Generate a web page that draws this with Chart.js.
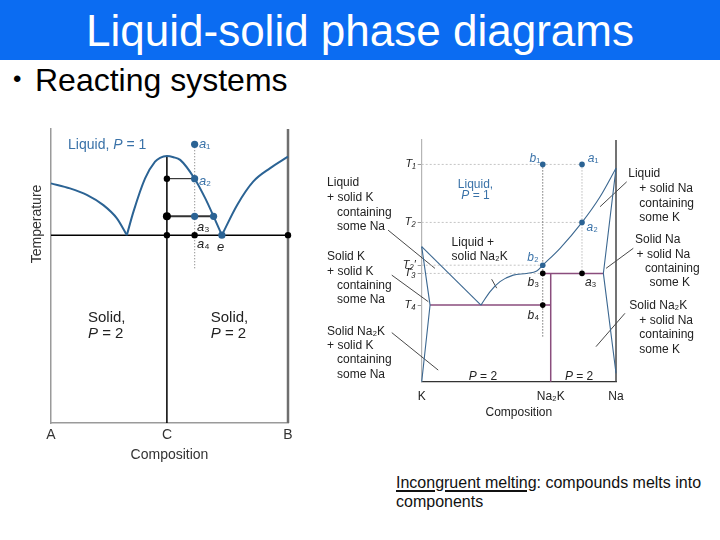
<!DOCTYPE html>
<html>
<head>
<meta charset="utf-8">
<script src="https://cdn.jsdelivr.net/npm/chart.js@4.4.1/dist/chart.umd.min.js"></script>
<style>
html,body{margin:0;padding:0;background:#fff;width:720px;height:540px;overflow:hidden;font-family:"Liberation Sans","DejaVu Sans",Arial,sans-serif;}
#bar{position:absolute;left:0;top:0;width:720px;height:60px;background:#0b6cf2;}
#title{position:absolute;left:0;top:9px;width:720px;text-align:center;color:#fff;font-size:44px;line-height:44px;white-space:nowrap;}
#bullet{position:absolute;left:13px;top:67px;font-size:24px;line-height:24px;color:#000;}
#sub{position:absolute;left:35px;top:64px;font-size:32px;line-height:32px;color:#000;white-space:nowrap;}
#note{position:absolute;left:396px;top:473px;font-size:16px;line-height:19px;color:#111;white-space:nowrap;}
#note u{text-decoration-thickness:2px;text-underline-offset:2px;}
#leftBox{position:absolute;left:0;top:100px;width:310px;height:380px;}
#rightBox{position:absolute;left:318px;top:130px;width:402px;height:300px;}
</style>
</head>
<body>
<div id="bar"></div>
<div id="title">Liquid-solid phase diagrams</div>
<div id="bullet">•</div>
<div id="sub">Reacting systems</div>
<div id="note"><u>Incongruent melting</u>: compounds melts into<br>components</div>
<div id="leftBox"><canvas id="left" width="310" height="380"></canvas></div>
<div id="rightBox"><canvas id="right" width="402" height="300"></canvas></div>
<script>
// ---------- Left diagram (compound C, congruent melting) ----------
const leftTickValues = [0, 49, 100];
const leftTickLabels = ['A', 'C', 'B'];
const liquidusA = [[0,81.5],[8,79.8],[15.1,77.6],[22.1,74.1],[27.8,69.6],[32,63.9]];
const liquidusC = [[32,63.9],[34.8,71.9],[39.7,83.2],[43.9,88.9],[46,90.2],[48.9,90.8],[51.7,90.4],[54.5,89.5],[60.6,83.1],[65.1,76.4],[68.6,70.3],[72.1,63.9]];
const liquidusB = [[72.1,63.9],[78.5,74.1],[85.3,82.1],[92.5,86.7],[100,90.6]];
const compoundC = [[48.9,90.8],[48.9,0]];
const eutecticLeft = [[0,63.9],[100,63.9]];
const pureB = [[100,0],[100,100]];
const tieA2 = [[48.9,83.1],[60.6,83.1]];
const tieA3 = [[48.9,70.3],[68.6,70.3]];
const isoplethA = [[60.6,94.8],[60.6,52]];
const blueDotsLeft = [[60.6,94.8],[60.6,83.1],[60.6,70.3],[68.6,70.3],[72.1,63.9]];
const blackDotsLeft = [[48.9,83.1],[48.9,63.9],[60.6,63.9],[100,63.9]];
const bigDotLeft = [[48.9,70.3]];

// ---------- Right diagram (Na / K, Na2K incongruent melting) ----------
const rightTickValues = [0, 66.4, 100];
const rightTickLabels = ['K', 'Na₂K', 'Na'];
const tempTickValues = [89.9, 65.9, 48.2, 44.8, 31.7];
const tempTickLabels = ['T₁', 'T₂', 'T₂′', 'T₃', 'T₄'];
const liquidusK = [[0,55.9],[30.5,31.7]];
const liquidusNa2K = [[30.5,31.7],[35.1,37.2],[40.3,41.4],[47.1,44.1],[54,44.8],[59.2,45.8],[62.3,48.2]];
const liquidusNa = [[62.3,48.2],[71.2,55.2],[82.5,65.9],[91.8,76.5],[100,88.3]];
const solidSolK = [[0,55.9],[4.3,31.7],[0,0]];
const solidSolNa = [[100,88.3],[93.5,44.8],[100,3.5]];
const peritecticLine = [[62.3,44.8],[93.5,44.8]];
const eutecticRight = [[4.3,31.7],[66.4,31.7]];
const na2kLine = [[66.4,44.8],[66.4,0]];
const pureNa = [[100,0],[100,100]];
const isoplethB = [[62.3,89.9],[62.3,18.6]];
const isoplethAr = [[82.5,89.9],[82.5,44.8]];
const guideT1 = [[0,89.9],[82.5,89.9]];
const guideT2 = [[0,65.9],[82.5,65.9]];
const guideT2p = [[0,48.2],[62.3,48.2]];
const guideT3 = [[0,44.8],[62.3,44.8]];
const leaders = [
  [[-17.3,62.7],[6.8,46.9]],
  [[-15.4,44.1],[3.4,33.1]],
  [[-15.4,20.3],[8.5,4.8]],
  [[105.5,82.7],[91.8,72.4]],
  [[108.9,55.2],[94.9,46.9]],
  [[104.6,28.3],[89.7,14.5]],
  [[36,42.4],[38.6,38.7]]
];
const blueDotsRight = [[62.3,89.9],[82.5,89.9],[82.5,65.9],[62.3,48.2]];
const blackDotsRight = [[62.3,44.8],[82.5,44.8],[62.3,31.7]];

// ---------- annotations (text anchored in data coordinates) ----------
const BLUE = '#2b6394';
const LBLUE = '#3a72a8';
const INK = '#222';
const leftNotes = [
  {t:'Temperature', x:-5.9, y:67.7, c:'#333', s:14, a:'center', r:-Math.PI / 2},
  {t:'Liquid, *P* = 1', x:7.2, y:94.6, c:LBLUE, s:14, a:'left'},
  {t:'*a*₁', x:62.4, y:94.8, c:LBLUE, s:13, a:'left'},
  {t:'*a*₂', x:62.4, y:82.3, c:LBLUE, s:13, a:'left'},
  {t:'*a*₃', x:61.6, y:66.5, c:INK, s:13, a:'left'},
  {t:'*a*₄', x:61.6, y:60.6, c:INK, s:13, a:'left'},
  {t:'*e*', x:71.6, y:59.9, c:INK, s:13, a:'center'},
  {t:'Solid,', x:15.6, y:35.7, c:INK, s:15, a:'left'},
  {t:'*P* = 2', x:15.6, y:30.2, c:INK, s:15, a:'left'},
  {t:'Solid,', x:67.4, y:35.7, c:INK, s:15, a:'left'},
  {t:'*P* = 2', x:67.4, y:30.2, c:INK, s:15, a:'left'}
];
const rightNotes = [
  {t:'Liquid,', x:27.7, y:81.6, c:LBLUE, s:12, a:'center'},
  {t:'*P* = 1', x:27.7, y:76.8, c:LBLUE, s:12, a:'center'},
  {t:'Liquid +', x:15.4, y:57.5, c:INK, s:12, a:'left'},
  {t:'solid Na₂K', x:15.4, y:51.7, c:INK, s:12, a:'left'},
  {t:'*P* = 2', x:31.5, y:1.9, c:INK, s:12, a:'center'},
  {t:'*P* = 2', x:81.0, y:1.9, c:INK, s:12, a:'center'},
  {t:'*b*₁', x:61.0, y:92.4, c:LBLUE, s:12, a:'right'},
  {t:'*a*₁', x:85.5, y:92.4, c:LBLUE, s:12, a:'left'},
  {t:'*a*₂', x:84.8, y:63.6, c:LBLUE, s:12, a:'left'},
  {t:'*b*₂', x:60.2, y:51.4, c:LBLUE, s:12, a:'right'},
  {t:'*b*₃', x:60.4, y:40.8, c:INK, s:12, a:'right'},
  {t:'*a*₃', x:84.0, y:40.8, c:INK, s:12, a:'left'},
  {t:'*b*₄', x:60.4, y:27.4, c:INK, s:12, a:'right'},
  {t:'Liquid', x:-48.7, y:82.2, c:INK, s:12, a:'left'},
  {t:'+ solid K', x:-48.7, y:76.0, c:INK, s:12, a:'left'},
  {t:'containing', x:-43.6, y:69.8, c:INK, s:12, a:'left'},
  {t:'some Na', x:-43.6, y:64.0, c:INK, s:12, a:'left'},
  {t:'Solid K', x:-48.7, y:51.6, c:INK, s:12, a:'left'},
  {t:'+ solid K', x:-48.7, y:45.4, c:INK, s:12, a:'left'},
  {t:'containing', x:-43.6, y:39.6, c:INK, s:12, a:'left'},
  {t:'some Na', x:-43.6, y:33.8, c:INK, s:12, a:'left'},
  {t:'Solid Na₂K', x:-48.7, y:20.7, c:INK, s:12, a:'left'},
  {t:'+ solid K', x:-48.7, y:14.9, c:INK, s:12, a:'left'},
  {t:'containing', x:-43.6, y:9.0, c:INK, s:12, a:'left'},
  {t:'some Na', x:-43.6, y:3.1, c:INK, s:12, a:'left'},
  {t:'Liquid', x:106.3, y:86.2, c:INK, s:12, a:'left'},
  {t:'+ solid Na', x:112.0, y:80.0, c:INK, s:12, a:'left'},
  {t:'containing', x:112.0, y:73.8, c:INK, s:12, a:'left'},
  {t:'some K', x:112.0, y:68.0, c:INK, s:12, a:'left'},
  {t:'Solid Na', x:109.8, y:58.6, c:INK, s:12, a:'left'},
  {t:'+ solid Na', x:110.6, y:52.7, c:INK, s:12, a:'left'},
  {t:'containing', x:114.9, y:46.9, c:INK, s:12, a:'left'},
  {t:'some K', x:117.2, y:41.0, c:INK, s:12, a:'left'},
  {t:'Solid Na₂K', x:106.8, y:31.4, c:INK, s:12, a:'left'},
  {t:'+ solid Na', x:112.0, y:25.1, c:INK, s:12, a:'left'},
  {t:'containing', x:112.0, y:19.3, c:INK, s:12, a:'left'},
  {t:'some K', x:112.0, y:13.4, c:INK, s:12, a:'left'}
];

const FAM = '"Liberation Sans","DejaVu Sans",Arial,sans-serif';
const pts = a => a.map(([x, y]) => ({x, y}));
function seg(a, color, width, extra) {
  return Object.assign({data: pts(a), showLine: true, borderColor: color, borderWidth: width,
    pointRadius: 0, fill: false, clip: false, tension: 0, order: 2}, extra || {});
}
function dots(a, color, r) {
  return {data: pts(a), showLine: false, pointRadius: r, pointBackgroundColor: color,
    pointBorderColor: color, pointBorderWidth: 0, clip: false, order: 0};
}
const smooth = {cubicInterpolationMode: 'monotone'};

const notePlugin = {
  id: 'notes',
  afterDatasetsDraw(chart, args, opts) {
    const ctx = chart.ctx, xs = chart.scales.x, ys = chart.scales.y;
    for (const n of opts.items || []) {
      ctx.save();
      ctx.textBaseline = 'middle';
      ctx.textAlign = 'left';
      const parts = n.t.split('*');
      const fonts = parts.map((p, i) => (i % 2 ? 'italic ' : '') + n.s + 'px ' + FAM);
      const widths = parts.map((p, i) => { ctx.font = fonts[i]; return ctx.measureText(p).width; });
      const total = widths.reduce((a, b) => a + b, 0);
      ctx.translate(xs.getPixelForValue(n.x), ys.getPixelForValue(n.y));
      if (n.r) ctx.rotate(n.r);
      let px = 0;
      if (n.a === 'center') px -= total / 2;
      else if (n.a === 'right') px -= total;
      ctx.fillStyle = n.c;
      parts.forEach((p, i) => { ctx.font = fonts[i]; ctx.fillText(p, px, 0); px += widths[i]; });
      ctx.restore();
    }
  }
};

function fixedTicks(values) {
  return scale => { scale.ticks = values.map(v => ({value: v})); };
}

// ---------- Left chart ----------
new Chart(document.getElementById('left'), {
  type: 'scatter',
  data: {datasets: [
    dots(bigDotLeft, '#000', 4),
    dots(blackDotsLeft, '#000', 3.2),
    dots(blueDotsLeft, BLUE, 3.6),
    seg(liquidusA, BLUE, 2, smooth),
    seg(liquidusC, BLUE, 2, smooth),
    seg(liquidusB, BLUE, 2, smooth),
    seg(compoundC, '#000', 1.5),
    seg(eutecticLeft, '#000', 1.5),
    seg(pureB, '#6f6f6f', 2.5),
    seg(tieA2, '#111', 1),
    seg(tieA3, '#333', 2),
    seg(isoplethA, '#888', 1.2, {borderDash: [1, 2]})
  ]},
  options: {
    responsive: false, animation: false, devicePixelRatio: 1, events: [],
    layout: {padding: {left: 25, top: 29, right: 22, bottom: 12.6}},
    plugins: {legend: {display: false}, tooltip: {enabled: false}, notes: {items: leftNotes}},
    scales: {
      x: {type: 'linear', min: 0, max: 100, position: 'bottom',
        grid: {display: false, drawTicks: false},
        border: {display: true, color: '#9a9a9a', width: 1.5},
        afterBuildTicks: fixedTicks(leftTickValues),
        afterFit: s => { s.height = 44.4; },
        ticks: {autoSkip: false, maxRotation: 0, padding: 3.6, color: '#333',
          font: {size: 14, family: FAM}, callback: (v, i) => leftTickLabels[i]},
        title: {display: true, text: 'Composition', color: '#333', font: {size: 14, family: FAM}, padding: {top: 0, bottom: 4}}
      },
      y: {type: 'linear', min: 0, max: 100, position: 'left',
        grid: {display: false, drawTicks: false},
        border: {display: true, color: '#9a9a9a', width: 1.5},
        ticks: {display: false},
        afterFit: s => { s.width = 26; },
        title: {display: false}
      }
    }
  },
  plugins: [notePlugin]
});

// ---------- Right chart ----------
const PURPLE = '#8a4d7d';
const CURVE = '#3b6790';
const rightSets = [
  dots(blackDotsRight, '#000', 2.8),
  dots(blueDotsRight, BLUE, 2.8),
  seg(liquidusK, CURVE, 1.1),
  seg(liquidusNa2K, CURVE, 1.1, smooth),
  seg(liquidusNa, CURVE, 1.1, smooth),
  seg(solidSolK, CURVE, 1.1),
  seg(solidSolNa, CURVE, 1.1),
  seg(peritecticLine, PURPLE, 1.5),
  seg(eutecticRight, PURPLE, 1.5),
  seg(na2kLine, PURPLE, 1.5),
  seg(pureNa, '#444', 1.5),
  seg(isoplethB, '#333', 1, {borderDash: [1, 2]}),
  seg(isoplethAr, '#999', 1, {borderDash: [1, 2]}),
  seg(guideT1, '#c4c4c4', 1, {borderDash: [2, 2]}),
  seg(guideT2, '#c4c4c4', 1, {borderDash: [2, 2]}),
  seg(guideT2p, '#c4c4c4', 1, {borderDash: [2, 2]}),
  seg(guideT3, '#c4c4c4', 1, {borderDash: [2, 2]})
].concat(leaders.map(l => seg(l, '#333', 0.9)));

new Chart(document.getElementById('right'), {
  type: 'scatter',
  data: {datasets: rightSets},
  options: {
    responsive: false, animation: false, devicePixelRatio: 1, events: [],
    layout: {padding: {left: 83.7, top: 10, right: 104, bottom: 5.8}},
    plugins: {legend: {display: false}, tooltip: {enabled: false}, notes: {items: rightNotes}},
    scales: {
      x: {type: 'linear', min: 0, max: 100, position: 'bottom',
        grid: {display: false, drawTicks: false},
        border: {display: true, color: '#333', width: 1.3},
        afterBuildTicks: fixedTicks(rightTickValues),
        afterFit: s => { s.height = 42.5; },
        ticks: {autoSkip: false, maxRotation: 0, padding: 7.8, color: '#222',
          font: {size: 12, family: FAM}, callback: (v, i) => rightTickLabels[i]},
        title: {display: true, text: 'Composition', color: '#222', font: {size: 12, family: FAM}, padding: {top: 0, bottom: 4}}
      },
      y: {type: 'linear', min: 0, max: 100, position: 'left',
        grid: {display: true, drawOnChartArea: false, drawTicks: true, tickLength: 4, color: '#999'},
        border: {display: true, color: '#b5b5b5', width: 1.2},
        afterBuildTicks: fixedTicks(tempTickValues),
        afterFit: s => { s.width = 20; },
        ticks: {autoSkip: false, padding: 2, color: '#222',
          font: {size: 11, style: 'italic', family: FAM}, callback: (v, i) => tempTickLabels[i]}
      }
    }
  },
  plugins: [notePlugin]
});
</script>
</body>
</html>
